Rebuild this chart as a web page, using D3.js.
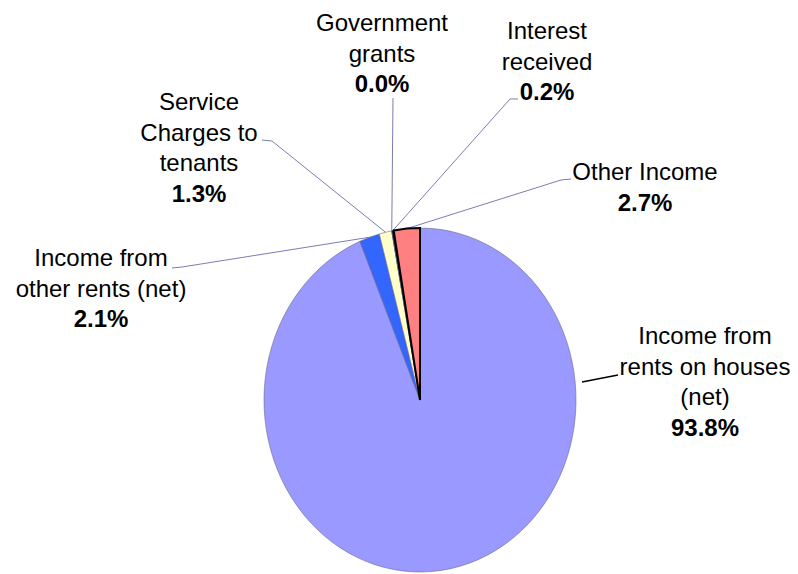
<!DOCTYPE html>
<html>
<head>
<meta charset="utf-8">
<script src="https://cdn.jsdelivr.net/npm/d3@7/dist/d3.min.js"></script>
<style>
  html, body { margin: 0; padding: 0; background: #fff; }
  svg { display: block; }
  text { font-family: Arial, "Liberation Sans", sans-serif; font-size: 24px; fill: #000; }
</style>
</head>
<body>
<svg id="chart" width="798" height="574"></svg>
<script>
// Income breakdown (percent of total)
const categories = [
  "Income from rents on houses (net)",
  "Income from other rents (net)",
  "Service Charges to tenants",
  "Government grants",
  "Interest received",
  "Other Income"
];
const values = [93.8, 2.1, 1.3, 0.0, 0.2, 2.7];
const colors = ["#9999FF", "#3366FF", "#FFFFCC", "#000000", "#000000", "#FF8080"];

// Label text lines for each slice
const labelLines = [
  ["Income from", "rents on houses", "(net)"],
  ["Income from", "other rents (net)"],
  ["Service", "Charges to", "tenants"],
  ["Government", "grants"],
  ["Interest", "received"],
  ["Other Income"]
];

// Label placement: centre x, first baseline, and leader-line anchor points on the label side
const labelLayout = [
  { x: 705, y: 344, leader: [[618, 375], [582, 382]], leaderColor: "#000", fixedEnd: true },
  { x: 101, y: 266, leader: [[172, 268], [182, 267]], leaderColor: "#7c7cb4" },
  { x: 199, y: 110, leader: [[262, 140], [272, 141]], leaderColor: "#7c7cb4" },
  { x: 382, y: 31,  leader: [[393, 98]], leaderColor: "#7c7cb4" },
  { x: 547, y: 39,  leader: [[518, 99], [510, 99]], leaderColor: "#7c7cb4" },
  { x: 645, y: 180, leader: [[571, 179], [561, 180]], leaderColor: "#7c7cb4" }
];

const lineGap = 30.5;
const cx = 420, cy = 400, rx = 156, ry = 172;

const svg = d3.select("#chart");

const data = categories.map((c, i) => ({ name: c, value: values[i], i }));
const pie = d3.pie().sort(null).value(d => d.value);
const arcs = pie(data);

const arc = d3.arc().innerRadius(0).outerRadius(rx);

// Leader lines (drawn first so slices sit on top of their ends)
const leaders = svg.append("g");
arcs.forEach(a => {
  const L = labelLayout[a.data.i];
  const mid = (a.startAngle + a.endAngle) / 2;
  const edge = [cx + rx * Math.sin(mid), cy - ry * Math.cos(mid)];
  const pts = L.fixedEnd ? L.leader : L.leader.concat([edge]);
  leaders.append("path")
    .attr("d", d3.line()(pts))
    .attr("fill", "none")
    .attr("stroke", L.leaderColor)
    .attr("stroke-width", L.fixedEnd ? 1.6 : 1);
});

// Pie, stretched vertically into an ellipse
const g = svg.append("g")
  .attr("transform", `translate(${cx},${cy}) scale(1,${ry / rx})`);

g.selectAll("path.slice")
  .data(arcs)
  .join("path")
  .attr("class", "slice")
  .attr("d", arc)
  .attr("fill", d => colors[d.data.i])
  .attr("stroke", d => d.data.i === 5 ? "#000" : "#6a6a8a")
  .attr("stroke-width", d => d.data.i === 5 ? 2 : 0.6)
  .attr("vector-effect", "non-scaling-stroke");

// Keep the outlined slice on top
g.selectAll("path.slice").filter(d => d.data.i === 5).raise();

// Labels
const labels = svg.append("g");
arcs.forEach(a => {
  const L = labelLayout[a.data.i];
  const t = labels.append("text").attr("text-anchor", "middle");
  const lines = labelLines[a.data.i];
  lines.forEach((s, k) => {
    t.append("tspan").attr("x", L.x).attr("y", L.y + k * lineGap).text(s);
  });
  t.append("tspan")
    .attr("x", L.x)
    .attr("y", L.y + lines.length * lineGap)
    .attr("font-weight", "bold")
    .text(d3.format(".1f")(a.data.value) + "%");
});
</script>
</body>
</html>
